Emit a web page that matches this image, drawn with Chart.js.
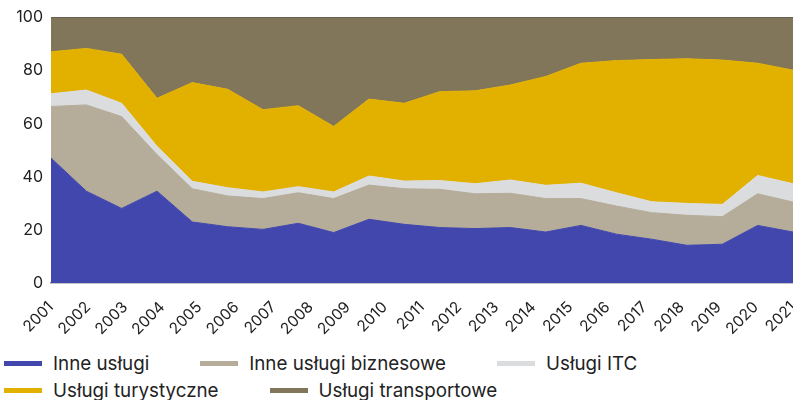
<!DOCTYPE html>
<html>
<head>
<meta charset="utf-8">
<script src="https://cdn.jsdelivr.net/npm/chart.js@4"></script>
<style>
    body { margin: 0; background: #fff; font-family: Inter, sans-serif; }
    #wrap { position: relative; width: 793px; height: 400px; }
    #legend { position: absolute; left: 4px; top: 350px; width: 789px; display: flex; flex-wrap: wrap; }
    .item { display: flex; align-items: center; height: 27px; margin-right: 51px; font-size: 18.8px; color: #222; }
    .box { width: 38px; height: 5px; margin-right: 11px; }
</style>
</head>
<body>
<div id="wrap">
    <canvas id="chart" width="793" height="345"></canvas>
    <div id="legend"></div>
</div>
<script>
// DATA
const years = ["2001", "2002", "2003", "2004", "2005", "2006", "2007", "2008", "2009", "2010", "2011",
    "2012", "2013", "2014", "2015", "2016", "2017", "2018", "2019", "2020", "2021"];

const inneUslugi = [47.1, 34.6, 28.1, 34.6, 23.0, 21.2, 20.2, 22.5, 19.0, 24.0, 22.1,
    20.9, 20.5, 20.9, 19.2, 21.7, 18.4, 16.5, 14.2, 14.6, 21.7, 19.2];
const inneBiznesowe = [19.4, 32.5, 34.6, 13.8, 12.5, 11.6, 11.6, 11.5, 12.8, 12.9, 13.4,
    14.4, 13.1, 12.9, 12.6, 10.1, 10.6, 10.0, 11.3, 10.4, 11.9, 11.3];
const uslugiITC = [4.8, 5.6, 5.0, 3.1, 2.8, 3.1, 2.5, 2.3, 2.5, 3.4, 2.9,
    3.3, 3.8, 5.0, 5.0, 5.8, 5.0, 4.1, 4.5, 4.6, 6.9, 6.9];
const turystyczne = [15.8, 15.7, 18.5, 18.1, 37.2, 37.1, 31.0, 30.5, 24.7, 29.0, 29.3,
    33.5, 35.0, 35.8, 41.0, 45.2, 49.8, 53.6, 54.5, 54.4, 42.3, 42.8];
const transportowe = [12.9, 11.6, 13.8, 30.4, 24.5, 27.0, 34.7, 33.2, 41.0, 30.7, 32.3,
    27.9, 27.6, 25.4, 22.2, 17.2, 16.2, 15.8, 15.5, 16.0, 17.2, 19.8];

const yTicks = [0, 20, 40, 60, 80, 100];

const series = [
    { label: "Inne usługi", data: inneUslugi, color: "#4147ad" },
    { label: "Inne usługi biznesowe", data: inneBiznesowe, color: "#b5ac99" },
    { label: "Usługi ITC", data: uslugiITC, color: "#dbdcde" },
    { label: "Usługi turystyczne", data: turystyczne, color: "#e2b100" },
    { label: "Usługi transportowe", data: transportowe, color: "#82765a" }
];

const lastIndex = inneUslugi.length - 1;

new Chart(document.getElementById("chart"), {
    type: "line",
    data: {
        datasets: series.map((s, i) => ({
            label: s.label,
            data: s.data.map((v, j) => ({ x: j, y: v })),
            backgroundColor: s.color,
            borderColor: s.color,
            borderWidth: 1,
            pointRadius: 0,
            tension: 0,
            fill: i === 0 ? "origin" : "-1"
        }))
    },
    options: {
        responsive: false,
        animation: false,
        layout: { padding: { top: 17, right: 0, left: 0, bottom: 0 } },
        plugins: { legend: { display: false }, tooltip: { enabled: false } },
        scales: {
            x: {
                type: "linear",
                min: 0,
                max: lastIndex,
                grid: { display: false },
                border: { color: "#8a8a8a", width: 1.5 },
                afterBuildTicks: (scale) => {
                    scale.ticks = years.map((y, i) => ({ value: i * lastIndex / (years.length - 1) }));
                },
                afterFit: (scale) => { scale.paddingRight = 0; scale.paddingLeft = 0; scale.height = 62; },
                ticks: {
                    autoSkip: false,
                    maxRotation: 45,
                    minRotation: 45,
                    padding: 7,
                    color: "#222",
                    font: { family: "Inter", size: 15.5 },
                    callback: (value, index) => years[index]
                }
            },
            y: {
                stacked: true,
                min: 0,
                max: 100,
                afterBuildTicks: (scale) => {
                    scale.ticks = yTicks.map(v => ({ value: v }));
                },
                afterFit: (scale) => { scale.width = 51; },
                grid: {
                    drawTicks: false,
                    color: (ctx) => ctx.tick && ctx.tick.value === 100 ? "#4d4d4d" : "transparent"
                },
                border: { display: false },
                ticks: {
                    padding: 8,
                    color: "#222",
                    font: { family: "Inter", size: 16 }
                }
            }
        }
    }
});

// LEGEND
const legend = document.getElementById("legend");
series.forEach(s => {
    const item = document.createElement("div");
    item.className = "item";
    item.innerHTML = '<span class="box" style="background:' + s.color + '"></span>' + s.label;
    legend.appendChild(item);
});
</script>
</body>
</html>
